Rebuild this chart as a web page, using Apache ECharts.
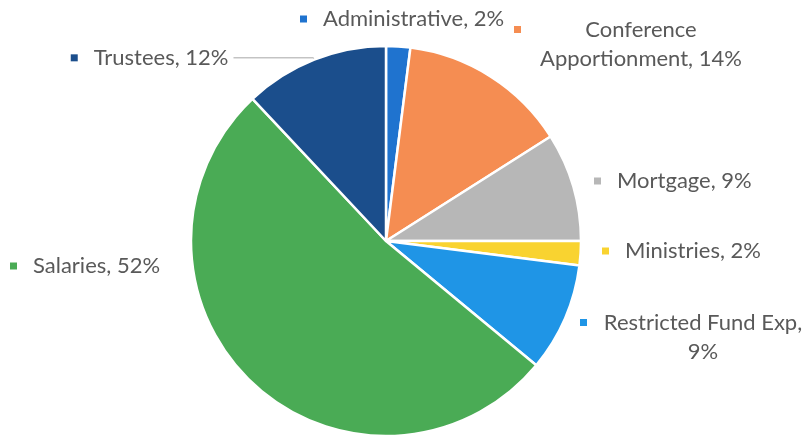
<!DOCTYPE html>
<html>
<head>
<meta charset="utf-8">
<script src="https://cdn.jsdelivr.net/npm/echarts@6/dist/echarts.min.js"></script>
<style>html,body{margin:0;background:#fff}#chart{width:807px;height:437px}</style>
</head>
<body>
<div id="chart"></div>
<script>
const categories = ['Administrative', 'Conference Apportionment', 'Mortgage', 'Ministries', 'Restricted Fund Exp', 'Salaries', 'Trustees']
const values = [2, 14, 9, 2, 9, 52, 12]
const colors = ['#1f73cf', '#f58d52', '#b7b7b7', '#f9d330', '#1f95e6', '#4aab55', '#1b4e8c']

// label block anchor: left edge of the marker, vertical middle (null = normal outside label with leader line)
const labelPos = [[300, 19], [514, 44], [594, 181], [602, 251], [580, 337], [10, 266], null]
// labels that wrap: first line text and width of the centred text box
const wrap = { 1: ['Conference', 208], 4: ['Restricted Fund Exp,', 200] }

function labelText(i) {
  const full = categories[i] + ', ' + values[i] + '%'
  const w = wrap[i]
  if (!w) return '{m|}{g|}{t|' + full + '}'
  const rest = full.slice(w[0].length).trim()
  return '{m|}{g|}{c|' + w[0] + '}\n{s|}{c|' + rest + '}'
}

const font = { fontFamily: 'Lato', fontSize: 22, color: '#595959', lineHeight: 29 }

const chart = echarts.init(document.getElementById('chart'))
chart.setOption({
  animation: false,
  series: [{
    type: 'pie',
    radius: 195,
    center: [386, 241],
    startAngle: 90,
    avoidLabelOverlap: false,
    emphasis: { disabled: true },
    itemStyle: { borderColor: '#fff', borderWidth: 2.5 },
    label: { show: true, position: 'outside', ...font },
    labelLine: { show: false },
    labelLayout: p => {
      const pos = labelPos[p.dataIndex]
      if (!pos) return {}
      return { x: pos[0], y: pos[1], align: 'left', verticalAlign: 'middle' }
    },
    data: categories.map((name, i) => ({
      name,
      value: values[i],
      itemStyle: { color: colors[i] },
      label: {
        formatter: () => labelText(i),
        rich: {
          m: { width: 7, height: 7, backgroundColor: colors[i] },
          g: { width: 16 },
          s: { width: 23 },
          t: { ...font },
          c: { ...font, width: wrap[i] ? wrap[i][1] : 0, align: 'center' }
        }
      },
      labelLine: labelPos[i] ? { show: false } : { show: true, length: 2, length2: 80, lineStyle: { color: '#a6a6a6', width: 1 } }
    }))
  }]
})
</script>
</body>
</html>
